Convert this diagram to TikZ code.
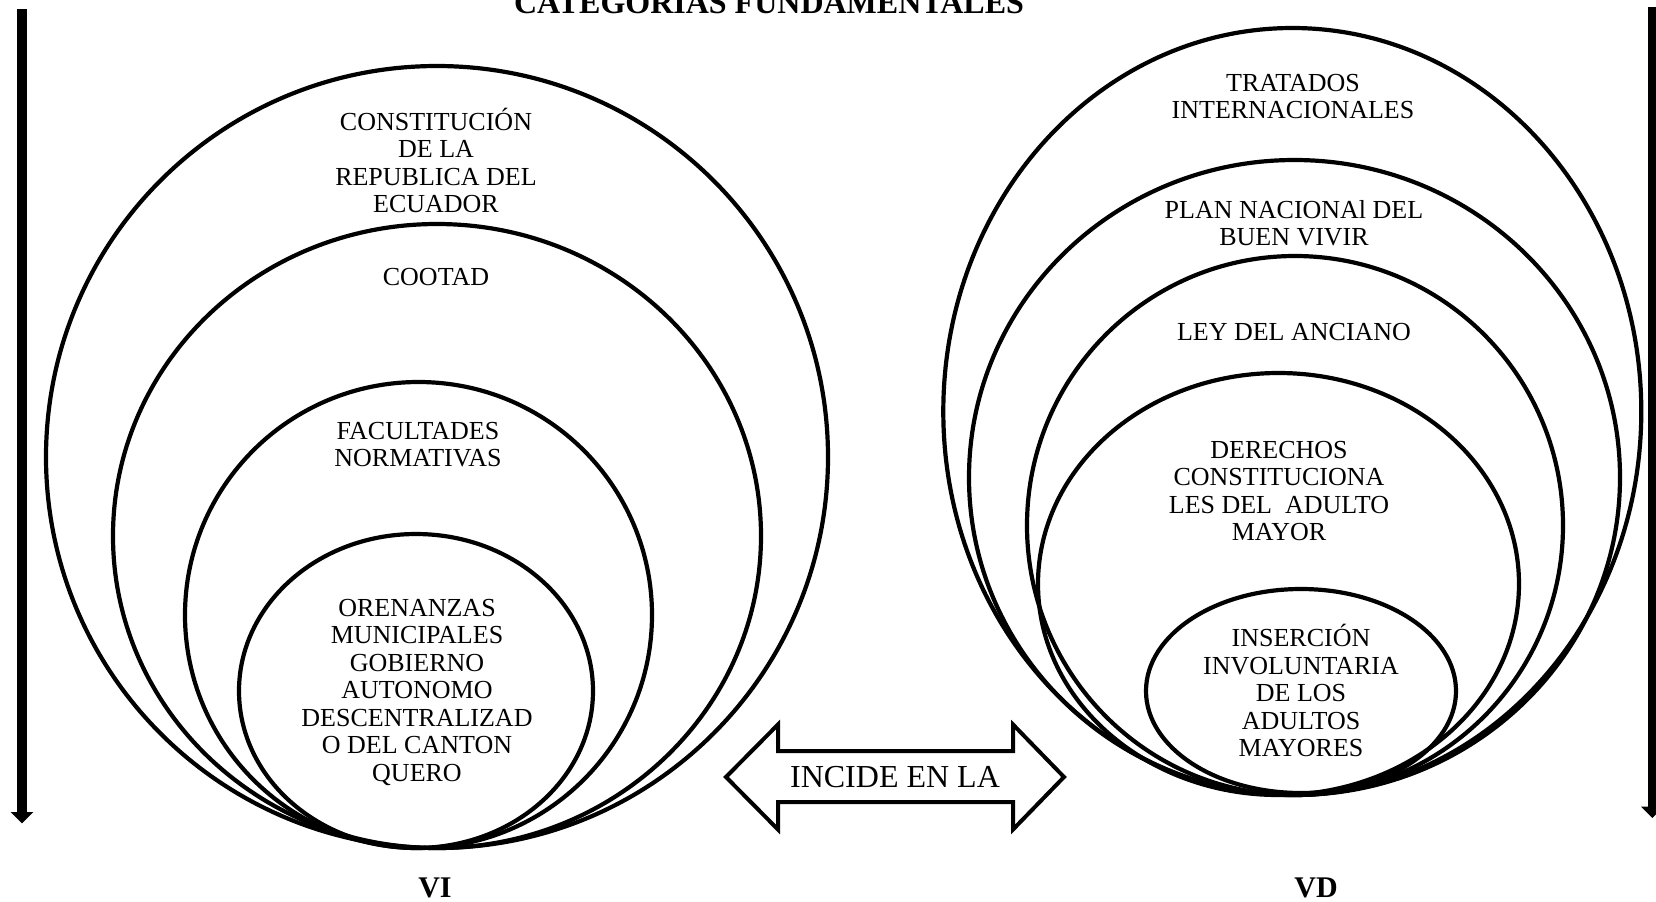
\documentclass[tikz,border=0pt]{standalone}
\usepackage{fontspec}
\setmainfont{Liberation Serif}
\usetikzlibrary{arrows.meta}
\begin{document}
\begin{tikzpicture}[x=0.5pt,y=-0.5pt,
  ring/.style={line width=2.1pt, draw=black},
  lbl/.style={align=center, inner sep=0pt, anchor=base, font=\fontsize{13}{13.75}\selectfont},
  bigfont/.style={inner sep=0pt, anchor=base, font=\fontsize{16}{18}\selectfont},
  boldlbl/.style={inner sep=0pt, anchor=base, font=\bfseries\fontsize{15}{17}\selectfont},
  vertarrow/.style={line width=4.75pt, -{Triangle[width=11pt,length=5.75pt]}},
  dblarrow/.style={line width=2pt, line join=miter, fill=white}]
\useasboundingbox (0,0) rectangle (1656,901);
\fill[white] (0,0) rectangle (1656,901);

% title (clipped at the top edge)
\node[inner sep=0pt, anchor=base, font=\bfseries\fontsize{16}{18}\selectfont] (title) at (769,13) {CATEGORIAS FUNDAMENTALES};

% vertical arrows
\coordinate (ltop) at (22,9);
\coordinate (lbot) at (22,823.5);
\draw[vertarrow] (ltop) -- (lbot);
\coordinate (rtop) at (1652.3,7);
\coordinate (rbot) at (1652.3,818);
\draw[vertarrow] (rtop) -- (rbot);

% left nested circles
\draw[ring] (437,457) ellipse [x radius=391, y radius=391];
\draw[ring] (437,536) ellipse [x radius=324, y radius=312];
\draw[ring] (418.5,615) ellipse [x radius=233.5, y radius=233];
\draw[ring] (416,691) ellipse [x radius=177, y radius=157];

% right nested circles
\draw[ring] (1292.3,411.5) ellipse [x radius=349, y radius=383.5];
\draw[ring] (1294.5,477.5) ellipse [x radius=325.5, y radius=317.5];
\draw[ring] (1295,525.5) ellipse [x radius=268, y radius=269.5];
\draw[ring] (1278.5,584) ellipse [x radius=240.5, y radius=211];
\draw[ring] (1301,691) ellipse [x radius=155, y radius=102];

% left labels (anchor = baseline of last line)
\node[lbl] (constitucion) at (436,212.5) {CONSTITUCIÓN\\DE LA\\REPUBLICA DEL\\ECUADOR};
\node[lbl] (cootad) at (436,285) {COOTAD};
\node[lbl] (facultades) at (418,466.5) {FACULTADES\\NORMATIVAS};
\node[lbl] (ordenanzas) at (417,781) {ORENANZAS\\MUNICIPALES\\GOBIERNO\\AUTONOMO\\DESCENTRALIZAD\\O DEL CANTON\\QUERO};

% right labels
\node[lbl] (tratados) at (1293,118.5) {TRATADOS\\INTERNACIONALES};
\node[lbl] (plan) at (1294,245.5) {PLAN NACIONAl DEL\\BUEN VIVIR};
\node[lbl] (ley) at (1294,340) {LEY DEL ANCIANO};
\node[lbl] (derechos) at (1279,540.5) {DERECHOS\\CONSTITUCIONA\\LES DEL\ \ ADULTO\\MAYOR};
\node[lbl] (insercion) at (1301,756.5) {INSERCIÓN\\INVOLUNTARIA\\DE LOS\\ADULTOS\\MAYORES};

% double arrow
\draw[dblarrow] (726,777) -- (778,724.5) -- (778,751) -- (1013,751) -- (1013,724.5)
  -- (1064,777) -- (1013,829.5) -- (1013,802) -- (778,802) -- (778,829.5) -- cycle;
\node[bigfont] (incide) at (895,787) {INCIDE EN LA};

% bottom labels
\node[boldlbl] (vi) at (435,897) {VI};
\node[boldlbl] (vd) at (1316,897) {VD};
\end{tikzpicture}
\end{document}
